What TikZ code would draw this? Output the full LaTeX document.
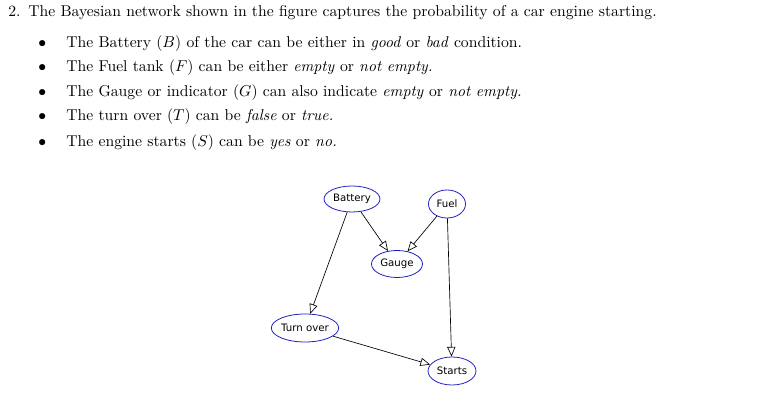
\documentclass[tikz,border=0pt]{standalone}
\usepackage{amsmath}
\usepackage{amssymb}
\usepackage{fontspec}
\newfontfamily\graphfont{DejaVu Sans}
\usetikzlibrary{arrows.meta,shapes.geometric}
\newcommand{\pxu}{0.637pt}

\begin{document}
\begin{tikzpicture}[x=\pxu, y=-\pxu,
    txt/.style={anchor=base west, inner sep=0pt},
    var/.style={ellipse, draw={rgb:red,40;green,40;blue,255}, line width=0.5pt, inner sep=0pt, font=\graphfont\fontsize{6.5}{7}\selectfont},
    edge/.style={-{Triangle[open, length=6.2pt, width=5.2pt]}, line width=0.42pt}]
    \useasboundingbox (0,0) rectangle (758,404);

    \node[txt] (Q) at (8,17) {2.};
    \node[txt] (Q1) at (28,17) {The Bayesian network shown in the figure captures the probability of a car engine starting.};
    \node[txt] (L1) at (38,48) {$\bullet$};
    \node[txt] (I1) at (66,48) {The Battery ($B$) of the car can be either in \textit{good} or \textit{bad} condition.};
    \node[txt] (L2) at (38,72) {$\bullet$};
    \node[txt] (I2) at (66,72) {The Fuel tank ($F$) can be either \textit{empty} or \textit{not empty.}};
    \node[txt] (L3) at (38,97) {$\bullet$};
    \node[txt] (I3) at (66,97) {The Gauge or indicator ($G$) can also indicate \textit{empty} or \textit{not empty.}};
    \node[txt] (L4) at (38,121) {$\bullet$};
    \node[txt] (I4) at (66,121) {The turn over ($T$) can be \textit{false} or \textit{true.}};
    \node[txt] (L5) at (38,147) {$\bullet$};
    \node[txt] (I5) at (66,147) {The engine starts ($S$) can be \textit{yes} or \textit{no.}};

    \node[var, minimum width=56*\pxu, minimum height=26*\pxu] (B) at (352,199) {Battery};
    \node[var, minimum width=37*\pxu, minimum height=28*\pxu] (F) at (447,204) {Fuel};
    \node[var, minimum width=51*\pxu, minimum height=27*\pxu] (G) at (397,264) {Gauge};
    \node[var, minimum width=65*\pxu, minimum height=28*\pxu] (T) at (305,328) {Turn over};
    \node[var, minimum width=48*\pxu, minimum height=28*\pxu] (S) at (452,371) {Starts};

    \draw[edge] (B) -- (G);
    \draw[edge] (F) -- (G);
    \draw[edge] (B) -- (T);
    \draw[edge] (F) -- (S);
    \draw[edge] (T) -- (S);
\end{tikzpicture}
\end{document}
